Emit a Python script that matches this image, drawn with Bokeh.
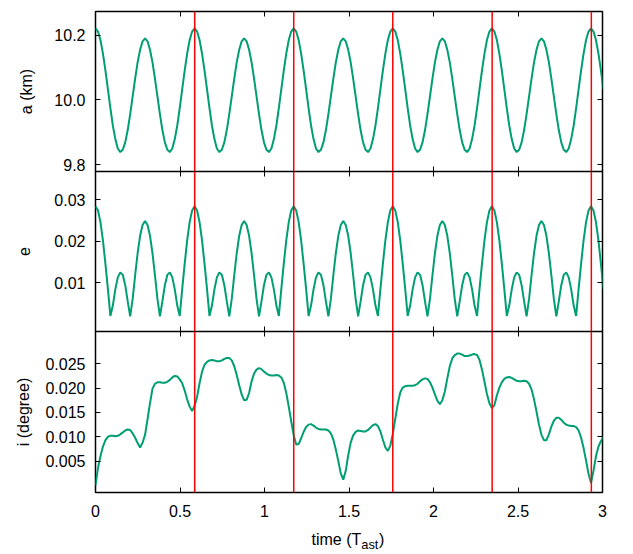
from bokeh.plotting import figure
from bokeh.models import Range1d, LinearAxis, FixedTicker, PrintfTickFormatter, Span, Label
from bokeh.layouts import column
from bokeh.embed import file_html
from bokeh.resources import INLINE

# ---------------- data ----------------
time = [
    0.0, 0.0147, 0.0293, 0.0440, 0.0586, 0.0733, 0.0880, 0.1026, 0.1173, 0.1319,
    0.1466, 0.1613, 0.1759, 0.1906, 0.2052, 0.2199, 0.2346, 0.2492, 0.2639, 0.2785,
    0.2932, 0.3079, 0.3225, 0.3372, 0.3518, 0.3665, 0.3812, 0.3958, 0.4105, 0.4251,
    0.4398, 0.4545, 0.4691, 0.4838, 0.4984, 0.5131, 0.5278, 0.5424, 0.5571, 0.5717,
    0.5864, 0.6011, 0.6157, 0.6304, 0.6450, 0.6597, 0.6744, 0.6890, 0.7037, 0.7183,
    0.7330, 0.7477, 0.7623, 0.7770, 0.7916, 0.8063, 0.8210, 0.8356, 0.8503, 0.8649,
    0.8796, 0.8943, 0.9089, 0.9236, 0.9382, 0.9529, 0.9676, 0.9822, 0.9969, 1.0115,
    1.0262, 1.0409, 1.0555, 1.0702, 1.0848, 1.0995, 1.1142, 1.1288, 1.1435, 1.1581,
    1.1728, 1.1875, 1.2021, 1.2168, 1.2314, 1.2461, 1.2608, 1.2754, 1.2901, 1.3047,
    1.3194, 1.3341, 1.3487, 1.3634, 1.3780, 1.3927, 1.4074, 1.4220, 1.4367, 1.4513,
    1.4660, 1.4807, 1.4953, 1.5100, 1.5246, 1.5393, 1.5540, 1.5686, 1.5833, 1.5979,
    1.6126, 1.6273, 1.6419, 1.6566, 1.6712, 1.6859, 1.7006, 1.7152, 1.7299, 1.7445,
    1.7592, 1.7739, 1.7885, 1.8032, 1.8178, 1.8325, 1.8472, 1.8618, 1.8765, 1.8911,
    1.9058, 1.9205, 1.9351, 1.9498, 1.9644, 1.9791, 1.9938, 2.0084, 2.0231, 2.0377,
    2.0524, 2.0671, 2.0817, 2.0964, 2.1110, 2.1257, 2.1404, 2.1550, 2.1697, 2.1843,
    2.1990, 2.2137, 2.2283, 2.2430, 2.2576, 2.2723, 2.2870, 2.3016, 2.3163, 2.3309,
    2.3456, 2.3603, 2.3749, 2.3896, 2.4042, 2.4189, 2.4336, 2.4482, 2.4629, 2.4775,
    2.4922, 2.5069, 2.5215, 2.5362, 2.5508, 2.5655, 2.5802, 2.5948, 2.6095, 2.6241,
    2.6388, 2.6535, 2.6681, 2.6828, 2.6974, 2.7121, 2.7268, 2.7414, 2.7561, 2.7707,
    2.7854, 2.8001, 2.8147, 2.8294, 2.8440, 2.8587, 2.8734, 2.8880, 2.9027, 2.9173,
    2.9320, 2.9467, 2.9613, 2.9760, 2.9906, 3.0053,
]

semi_major_km = [
    10.221, 10.211, 10.185, 10.143, 10.091, 10.033, 9.975, 9.921, 9.879, 9.850,
    9.839, 9.846, 9.869, 9.907, 9.956, 10.011, 10.066, 10.116, 10.155, 10.181,
    10.190, 10.181, 10.155, 10.116, 10.066, 10.011, 9.956, 9.907, 9.869, 9.846,
    9.839, 9.850, 9.879, 9.921, 9.975, 10.033, 10.091, 10.143, 10.185, 10.211,
    10.221, 10.211, 10.185, 10.143, 10.091, 10.033, 9.975, 9.921, 9.879, 9.850,
    9.839, 9.846, 9.869, 9.907, 9.956, 10.011, 10.066, 10.116, 10.155, 10.181,
    10.190, 10.181, 10.155, 10.116, 10.066, 10.011, 9.956, 9.907, 9.869, 9.846,
    9.839, 9.850, 9.879, 9.921, 9.975, 10.033, 10.091, 10.143, 10.185, 10.211,
    10.221, 10.211, 10.185, 10.143, 10.091, 10.033, 9.975, 9.921, 9.879, 9.850,
    9.839, 9.846, 9.869, 9.907, 9.956, 10.011, 10.066, 10.116, 10.155, 10.181,
    10.190, 10.181, 10.155, 10.116, 10.066, 10.011, 9.956, 9.907, 9.869, 9.846,
    9.839, 9.850, 9.879, 9.921, 9.975, 10.033, 10.091, 10.143, 10.185, 10.211,
    10.221, 10.211, 10.185, 10.143, 10.091, 10.033, 9.975, 9.921, 9.879, 9.850,
    9.839, 9.846, 9.869, 9.907, 9.956, 10.011, 10.066, 10.116, 10.155, 10.181,
    10.190, 10.181, 10.155, 10.116, 10.066, 10.011, 9.956, 9.907, 9.869, 9.846,
    9.839, 9.850, 9.879, 9.921, 9.975, 10.033, 10.091, 10.143, 10.185, 10.211,
    10.221, 10.211, 10.185, 10.143, 10.091, 10.033, 9.975, 9.921, 9.879, 9.850,
    9.839, 9.846, 9.869, 9.907, 9.956, 10.011, 10.066, 10.116, 10.155, 10.181,
    10.190, 10.181, 10.155, 10.116, 10.066, 10.011, 9.956, 9.907, 9.869, 9.846,
    9.839, 9.850, 9.879, 9.921, 9.975, 10.033, 10.091, 10.143, 10.185, 10.211,
    10.221, 10.211, 10.185, 10.143, 10.091, 10.033,
]

eccentricity = [
    0.0284, 0.0274, 0.0246, 0.0202, 0.0146, 0.0085, 0.0020, 0.0045, 0.0084, 0.0113,
    0.0125, 0.0119, 0.0094, 0.0055, 0.0019, 0.0061, 0.0118, 0.0171, 0.0213, 0.0239,
    0.0249, 0.0239, 0.0213, 0.0171, 0.0118, 0.0061, 0.0019, 0.0055, 0.0094, 0.0119,
    0.0125, 0.0113, 0.0084, 0.0045, 0.0020, 0.0085, 0.0146, 0.0202, 0.0246, 0.0274,
    0.0284, 0.0274, 0.0246, 0.0202, 0.0146, 0.0085, 0.0020, 0.0045, 0.0084, 0.0113,
    0.0125, 0.0119, 0.0094, 0.0055, 0.0019, 0.0061, 0.0118, 0.0171, 0.0213, 0.0239,
    0.0249, 0.0239, 0.0213, 0.0171, 0.0118, 0.0061, 0.0019, 0.0055, 0.0094, 0.0119,
    0.0125, 0.0113, 0.0084, 0.0045, 0.0020, 0.0085, 0.0146, 0.0202, 0.0246, 0.0274,
    0.0284, 0.0274, 0.0246, 0.0202, 0.0146, 0.0085, 0.0020, 0.0045, 0.0084, 0.0113,
    0.0125, 0.0119, 0.0094, 0.0055, 0.0019, 0.0061, 0.0118, 0.0171, 0.0213, 0.0239,
    0.0249, 0.0239, 0.0213, 0.0171, 0.0118, 0.0061, 0.0019, 0.0055, 0.0094, 0.0119,
    0.0125, 0.0113, 0.0084, 0.0045, 0.0020, 0.0085, 0.0146, 0.0202, 0.0246, 0.0274,
    0.0284, 0.0274, 0.0246, 0.0202, 0.0146, 0.0085, 0.0020, 0.0045, 0.0084, 0.0113,
    0.0125, 0.0119, 0.0094, 0.0055, 0.0019, 0.0061, 0.0118, 0.0171, 0.0213, 0.0239,
    0.0249, 0.0239, 0.0213, 0.0171, 0.0118, 0.0061, 0.0019, 0.0055, 0.0094, 0.0119,
    0.0125, 0.0113, 0.0084, 0.0045, 0.0020, 0.0085, 0.0146, 0.0202, 0.0246, 0.0274,
    0.0284, 0.0274, 0.0246, 0.0202, 0.0146, 0.0085, 0.0020, 0.0045, 0.0084, 0.0113,
    0.0125, 0.0119, 0.0094, 0.0055, 0.0019, 0.0061, 0.0118, 0.0171, 0.0213, 0.0239,
    0.0249, 0.0239, 0.0213, 0.0171, 0.0118, 0.0061, 0.0019, 0.0055, 0.0094, 0.0119,
    0.0125, 0.0113, 0.0084, 0.0045, 0.0020, 0.0085, 0.0146, 0.0202, 0.0246, 0.0274,
    0.0284, 0.0274, 0.0246, 0.0202, 0.0146, 0.0085,
]

inclination_deg = [
    0.0000, 0.0036, 0.0060, 0.0080, 0.0093, 0.0100, 0.0102, 0.0102, 0.0101, 0.0102,
    0.0105, 0.0109, 0.0113, 0.0115, 0.0114, 0.0107, 0.0098, 0.0087, 0.0078, 0.0088,
    0.0104, 0.0136, 0.0169, 0.0199, 0.0209, 0.0212, 0.0212, 0.0211, 0.0211, 0.0213,
    0.0217, 0.0222, 0.0225, 0.0224, 0.0218, 0.0210, 0.0195, 0.0177, 0.0162, 0.0153,
    0.0164, 0.0182, 0.0210, 0.0234, 0.0248, 0.0254, 0.0257, 0.0258, 0.0257, 0.0255,
    0.0255, 0.0257, 0.0260, 0.0262, 0.0262, 0.0257, 0.0245, 0.0227, 0.0206, 0.0187,
    0.0175, 0.0176, 0.0190, 0.0214, 0.0230, 0.0238, 0.0241, 0.0239, 0.0234, 0.0230,
    0.0227, 0.0226, 0.0226, 0.0227, 0.0226, 0.0222, 0.0211, 0.0190, 0.0162, 0.0132,
    0.0103, 0.0084, 0.0085, 0.0097, 0.0110, 0.0120, 0.0125, 0.0126, 0.0123, 0.0119,
    0.0116, 0.0115, 0.0115, 0.0115, 0.0113, 0.0107, 0.0094, 0.0074, 0.0050, 0.0025,
    0.0012, 0.0030, 0.0062, 0.0088, 0.0103, 0.0110, 0.0113, 0.0112, 0.0111, 0.0111,
    0.0114, 0.0119, 0.0124, 0.0126, 0.0122, 0.0111, 0.0094, 0.0078, 0.0071, 0.0082,
    0.0106, 0.0137, 0.0168, 0.0191, 0.0201, 0.0204, 0.0205, 0.0205, 0.0205, 0.0206,
    0.0209, 0.0214, 0.0218, 0.0220, 0.0219, 0.0212, 0.0201, 0.0187, 0.0174, 0.0167,
    0.0175, 0.0193, 0.0220, 0.0245, 0.0261, 0.0268, 0.0271, 0.0271, 0.0269, 0.0266,
    0.0266, 0.0267, 0.0269, 0.0270, 0.0268, 0.0258, 0.0238, 0.0213, 0.0188, 0.0169,
    0.0159, 0.0165, 0.0185, 0.0201, 0.0212, 0.0219, 0.0222, 0.0223, 0.0221, 0.0218,
    0.0215, 0.0214, 0.0214, 0.0215, 0.0214, 0.0209, 0.0197, 0.0177, 0.0152, 0.0125,
    0.0104, 0.0093, 0.0093, 0.0105, 0.0121, 0.0133, 0.0139, 0.0139, 0.0135, 0.0129,
    0.0125, 0.0123, 0.0122, 0.0122, 0.0120, 0.0113, 0.0098, 0.0077, 0.0051, 0.0024,
    0.0005, 0.0030, 0.0060, 0.0080, 0.0091, 0.0099,
]

red_times = [0.587, 1.173, 1.759, 2.347, 2.934]

x_ticks = [0, 0.5, 1, 1.5, 2, 2.5, 3]
a_ticks = [9.8, 10.0, 10.2]
e_ticks = [0.01, 0.02, 0.03]
i_ticks = [0.005, 0.010, 0.015, 0.020, 0.025]

# ---------------- styling ----------------
FONT = "Liberation Sans"
GREEN = "#009e73"
RED = "#ff0000"
FRAME_W = 507
LEFT = 95
RIGHT = 16


def style_axis(ax, ticks, fmt, show_labels, standoff=10):
    ax.ticker = FixedTicker(ticks=ticks, minor_ticks=[])
    ax.formatter = PrintfTickFormatter(format=fmt)
    ax.major_tick_in = 5
    ax.major_tick_out = 0
    ax.major_tick_line_color = "black"
    ax.major_tick_line_width = 1
    ax.minor_tick_line_color = None
    ax.axis_line_color = None
    ax.major_label_text_font = FONT
    if show_labels:
        ax.major_label_text_color = "black"
        ax.major_label_text_font_size = "16px"
        ax.major_label_standoff = standoff
    else:
        ax.major_label_text_color = None
        ax.major_label_text_font_size = "0px"
        ax.major_label_standoff = 0


def make_panel(y, yrange, yticks, yfmt, ylabel, label_standoff, frame_h,
               top, bottom, show_x):
    p = figure(x_range=Range1d(0, 3), y_range=Range1d(*yrange),
               frame_width=FRAME_W, frame_height=frame_h,
               output_backend="svg", toolbar_location=None,
               min_border_left=LEFT, min_border_right=RIGHT,
               min_border_top=top, min_border_bottom=bottom)
    p.grid.visible = False
    p.outline_line_color = "black"
    p.outline_line_width = 1.5
    p.background_fill_color = "white"
    p.border_fill_color = "white"

    style_axis(p.xaxis[0], x_ticks, "%g", show_x, standoff=12)
    style_axis(p.yaxis[0], yticks, yfmt, True, standoff=10)
    p.yaxis[0].axis_label = ylabel
    p.yaxis[0].axis_label_text_font = FONT
    p.yaxis[0].axis_label_text_font_size = "16px"
    p.yaxis[0].axis_label_text_font_style = "normal"
    p.yaxis[0].axis_label_text_color = "black"
    p.yaxis[0].axis_label_standoff = label_standoff

    top_ax = LinearAxis()
    style_axis(top_ax, x_ticks, "%g", False)
    p.add_layout(top_ax, "above")
    right_ax = LinearAxis()
    style_axis(right_ax, yticks, yfmt, False)
    p.add_layout(right_ax, "right")

    for t in red_times:
        p.add_layout(Span(location=t, dimension="height", line_color=RED,
                          line_width=1.5))
    p.line(time, y, line_color=GREEN, line_width=2)
    return p


p1 = make_panel(semi_major_km, (9.779, 10.273), a_ticks, "%.1f", "a (km)", 16,
                160, 11, 6, False)
p2 = make_panel(eccentricity, (-0.00175, 0.0368), e_ticks, "%.2f", "e", 21,
                160, 0, 4, False)
p2.margin = (-6, 0, 0, 0)
p3 = make_panel(inclination_deg, (-0.00145, 0.03164), i_ticks, "%.3f", "i (degree)", 10,
                161, 0, 32, True)
p3.margin = (-4, 0, 0, 0)

# strip below the last panel that carries the x-axis title (with subscript)
p4 = figure(x_range=Range1d(0, 3), y_range=Range1d(0, 1),
            frame_width=FRAME_W, frame_height=28,
            output_backend="svg", toolbar_location=None,
            x_axis_location=None, y_axis_location=None,
            min_border_left=LEFT, min_border_right=RIGHT,
            min_border_top=0, min_border_bottom=0)
p4.grid.visible = False
p4.outline_line_color = None
p4.add_layout(Label(x=216, y=12.7, x_units="screen", y_units="screen", text="time (T",
                    text_font=FONT, text_font_size="16px", text_color="black",
                    text_align="left", text_baseline="alphabetic"))
p4.add_layout(Label(x=265.8, y=8.5, x_units="screen", y_units="screen", text="ast",
                    text_font=FONT, text_font_size="12.8px", text_color="black",
                    text_align="left", text_baseline="alphabetic"))
p4.add_layout(Label(x=283.4, y=12.7, x_units="screen", y_units="screen", text=")",
                    text_font=FONT, text_font_size="16px", text_color="black",
                    text_align="left", text_baseline="alphabetic"))

layout = column(p1, p2, p3, p4, spacing=0)

open("out.html", "w").write(file_html(layout, INLINE))
